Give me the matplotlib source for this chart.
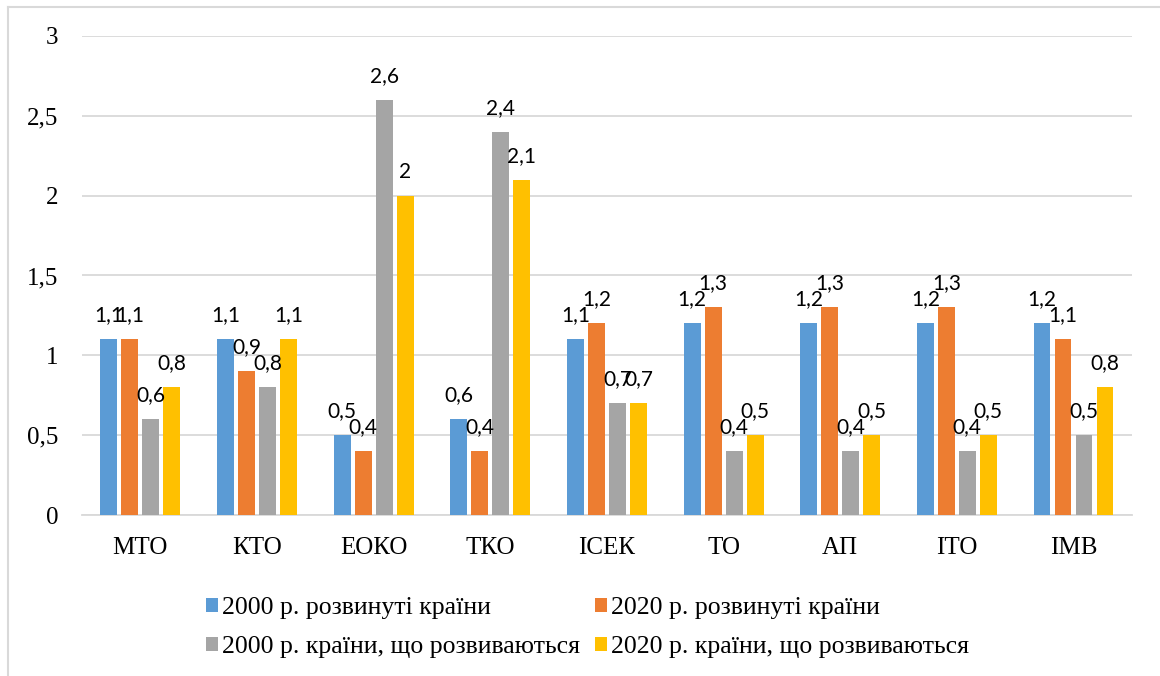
import matplotlib.pyplot as plt
from matplotlib.lines import Line2D
from matplotlib.ticker import FuncFormatter
import numpy as np

categories = ['МТО', 'КТО', 'ЕОКО', 'ТКО', 'ІСЕК', 'ТО', 'АП', 'ІТО', 'ІМВ']
series_names = ['2000 р. розвинуті країни', '2020 р. розвинуті країни',
                '2000 р. країни, що розвиваються', '2020 р. країни, що розвиваються']
dev_2000 = [1.1, 1.1, 0.5, 0.6, 1.1, 1.2, 1.2, 1.2, 1.2]
dev_2020 = [1.1, 0.9, 0.4, 0.4, 1.2, 1.3, 1.3, 1.3, 1.1]
devg_2000 = [0.6, 0.8, 2.6, 2.4, 0.7, 0.4, 0.4, 0.4, 0.5]
devg_2020 = [0.8, 1.1, 2.0, 2.1, 0.7, 0.5, 0.5, 0.5, 0.8]
colors = ['#5b9bd5', '#ed7d31', '#a5a5a5', '#ffc000']

serif = 'Liberation Serif'
label_font = 'Lato'


def fmt(v):
    s = ('%g' % v).replace('.', ',')
    return s


fig = plt.figure(figsize=(11.6, 6.76), dpi=100)
ax = fig.add_axes([0.0707, 0.238, 0.905, 0.709])

x = np.arange(len(categories))
step = 0.18
width = 0.145
all_series = [dev_2000, dev_2020, devg_2000, devg_2020]
handles = []
for i, vals in enumerate(all_series):
    pos = x + (i - 1.5) * step
    bars = ax.bar(pos, vals, width, color=colors[i], label=series_names[i], zorder=3)
    handles.append(bars)
    for p, v in zip(pos, vals):
        ax.annotate(fmt(v), (p, v), xytext=(0, 24), textcoords='offset pixels',
                    ha='center', va='center', fontsize=15, family=label_font,
                    color='#000000', zorder=4)

ax.set_xlim(-0.5, len(categories) - 0.5)
ax.set_ylim(0, 3)
ax.set_yticks(np.arange(0, 3.01, 0.5))
ax.yaxis.set_major_formatter(FuncFormatter(lambda v, p: fmt(round(v, 1))))
ax.set_xticks(x)
ax.set_xticklabels(categories)
ax.tick_params(axis='both', length=0, labelsize=18)
ax.tick_params(axis='y', pad=17)
ax.tick_params(axis='x', pad=16)
for lab in ax.get_xticklabels() + ax.get_yticklabels():
    lab.set_family(serif)
ax.grid(axis='y', color='#d9d9d9', linewidth=1.3, zorder=0)
for s in ['top', 'right', 'left']:
    ax.spines[s].set_visible(False)
ax.spines['bottom'].set_color('#d9d9d9')
ax.spines['bottom'].set_linewidth(1.3)

# legend filled row by row like the original
order = [0, 2, 1, 3]
leg = fig.legend(handles=[handles[k] for k in order],
                 labels=[series_names[k] for k in order], loc='upper left',
                 bbox_to_anchor=(0.158, 0.151), ncol=2, frameon=False,
                 prop={'family': serif, 'size': 18.5}, handlelength=0.45,
                 handleheight=0.45, handletextpad=0.15, columnspacing=0.6,
                 labelspacing=0.65)

# outer frame
fig.add_artist(Line2D([0.007, 0.007], [0, 0.99], transform=fig.transFigure,
                      color='#d9d9d9', linewidth=1.5))
fig.add_artist(Line2D([0.007, 1.0], [0.99, 0.99], transform=fig.transFigure,
                      color='#d9d9d9', linewidth=1.5))

fig.savefig('out.png', dpi=100)
